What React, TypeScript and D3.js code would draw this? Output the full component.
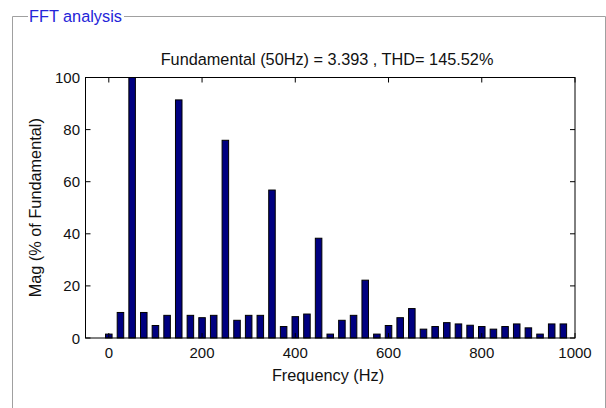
import React from "react";
import * as d3 from "d3";

// Harmonic spectrum, 25 Hz resolution, magnitudes in % of the 50 Hz fundamental
const frequencies = [
  0, 25, 50, 75, 100, 125, 150, 175, 200, 225, 250, 275, 300, 325, 350, 375, 400, 425, 450, 475,
  500, 525, 550, 575, 600, 625, 650, 675, 700, 725, 750, 775, 800, 825, 850, 875, 900, 925, 950, 975,
];
const magnitudes = [
  1.5, 9.8, 100, 9.8, 4.8, 8.7, 91.4, 8.7, 7.8, 8.7, 75.9, 6.8, 8.7, 8.7, 56.8, 4.4, 8.2, 9.2, 38.3, 1.5,
  6.8, 8.7, 22.2, 1.5, 4.8, 7.8, 11.3, 3.4, 4.4, 5.9, 5.4, 4.9, 4.4, 3.4, 4.4, 5.4, 3.9, 1.5, 5.4, 5.4,
];
const xTicks = [0, 200, 400, 600, 800, 1000];
const yTicks = [0, 20, 40, 60, 80, 100];

const fundamentalHz = 50;
const fundamentalMag = 3.393;
const thd = 145.52;

const W = 606;
const H = 408;
const plot = { left: 85.5, right: 575, top: 77.5, bottom: 338 };
const font = "'Liberation Sans', Arial, sans-serif";
const tickFont = 15;
const labelFont = 16.3;

export default function App() {
  const x = d3.scaleLinear().domain([-50, 1000]).range([plot.left, plot.right]);
  const y = d3.scaleLinear().domain([0, 100]).range([plot.bottom, plot.top]);
  const barW = x(14) - x(0);
  const tick = 5;

  return (
    <svg
      width={W}
      height={H}
      style={{ position: "absolute", left: 0, top: 0, background: "#fff" }}
      fontFamily={font}
    >
      {/* panel frame */}
      <path
        d={`M28,16.5 H12.5 V${H} M124,16.5 H605.5 V${H}`}
        fill="none"
        stroke="#a0a0a0"
        strokeWidth={1}
      />
      <text x={29} y={21.5} fontSize={labelFont} fill="#2424d8">
        FFT analysis
      </text>

      {/* title */}
      <text
        x={327}
        y={65}
        fontSize={labelFont}
        textAnchor="middle"
        fill="#111"
      >
        {`Fundamental (${fundamentalHz}Hz) = ${fundamentalMag} , THD= ${thd.toFixed(2)}%`}
      </text>

      {/* bars */}
      {frequencies.map((f, i) => (
        <rect
          key={f}
          x={x(f) - barW / 2}
          y={y(magnitudes[i])}
          width={barW}
          height={y(0) - y(magnitudes[i])}
          fill="#000080"
          stroke="#000"
          strokeWidth={1}
        />
      ))}

      {/* axes box */}
      <rect
        x={plot.left}
        y={plot.top}
        width={plot.right - plot.left}
        height={plot.bottom - plot.top}
        fill="none"
        stroke="#000"
        strokeWidth={1}
      />

      {/* x ticks */}
      {xTicks.map((t) => (
        <g key={`x${t}`}>
          <line x1={x(t)} x2={x(t)} y1={plot.bottom} y2={plot.bottom - tick} stroke="#000" />
          <line x1={x(t)} x2={x(t)} y1={plot.top} y2={plot.top + tick} stroke="#000" />
          <text x={x(t)} y={358} fontSize={tickFont} textAnchor="middle" fill="#111">
            {t}
          </text>
        </g>
      ))}

      {/* y ticks */}
      {yTicks.map((t) => (
        <g key={`y${t}`}>
          <line x1={plot.left} x2={plot.left + tick} y1={y(t)} y2={y(t)} stroke="#000" />
          <line x1={plot.right} x2={plot.right - tick} y1={y(t)} y2={y(t)} stroke="#000" />
          <text x={80} y={y(t) + 5.5} fontSize={tickFont} textAnchor="end" fill="#111">
            {t}
          </text>
        </g>
      ))}

      {/* axis labels */}
      <text
        x={328}
        y={381}
        fontSize={labelFont}
        textAnchor="middle"
        fill="#111"
      >
        Frequency (Hz)
      </text>
      <text
        transform={`translate(40.5,${(plot.top + plot.bottom) / 2}) rotate(-90)`}
        fontSize={labelFont}
        textAnchor="middle"
        fill="#111"
      >
        Mag (% of Fundamental)
      </text>
    </svg>
  );
}
